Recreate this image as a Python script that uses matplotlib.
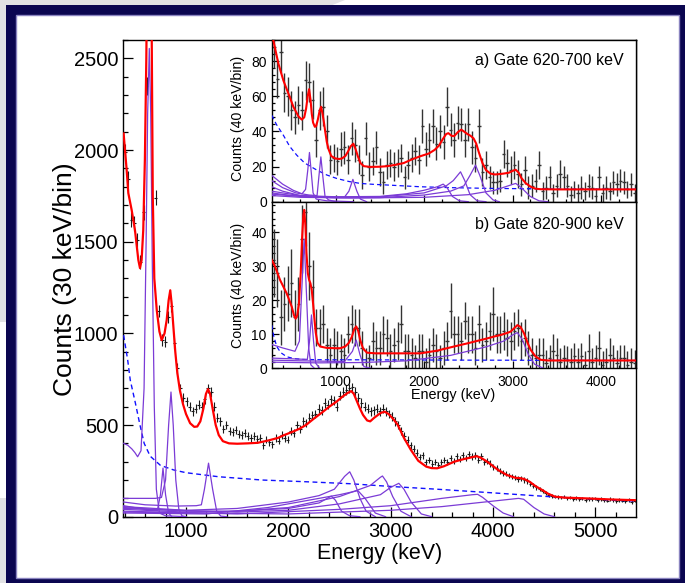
import numpy as np
import matplotlib
matplotlib.use("Agg")
import matplotlib.pyplot as plt
from matplotlib.patches import Rectangle, Polygon
from matplotlib.ticker import MultipleLocator

plt.rcParams['font.family'] = ['Liberation Sans', 'DejaVu Sans']

# ------------------------------------------------------------------ data
# main spectrum: 30 keV bins, first bin centre 405 keV
main_first_bin = 405
main_bin_width = 30
main_counts = [
    1990, 1840, 1620, 1600, 1510, 1390, 1660, 2350, 3600, 2900,
    1740, 1120, 963, 955, 1090, 1150, 946, 809, 700, 650,
    630, 600, 575, 590, 610, 600, 640, 700, 680, 600,
    540, 520, 480, 500, 470, 460, 475, 450, 445, 455,
    440, 430, 440, 425, 430, 390, 420, 405, 395, 430,
    415, 445, 430, 420, 470, 455, 500, 480, 520, 510,
    540, 555, 560, 590, 580, 620, 610, 640, 635, 600,
    660, 680, 690, 700, 705, 680, 650, 620, 600, 590,
    575, 580, 590, 575, 590, 575, 560, 545, 520, 500,
    470, 440, 420, 390, 370, 350, 325, 335, 300, 310,
    290, 300, 280, 300, 310, 300, 320, 305, 330, 315,
    335, 320, 340, 330, 335, 310, 330, 300, 305, 290,
    270, 265, 250, 240, 235, 225, 220, 215, 205, 210,
    200, 195, 180, 170, 160, 150, 140, 130, 120, 115,
    110, 108, 105, 110, 100, 105, 98, 102, 95, 100,
    92, 98, 95, 100, 90, 95, 92, 88, 95, 90,
    85, 92, 88, 85, 90, 80, 88]

main_fit = [(390, 2090), (420, 1890), (436, 1765), (469, 1672), (501, 1563), (534, 1400),
            (550, 1356), (566, 1400), (582, 1563), (598, 1950), (612, 2500), (625, 3300),
            (640, 3800), (655, 3200), (665, 2600), (675, 1750), (690, 1300), (714, 1127),
            (740, 1010), (762, 963), (790, 1000), (811, 1072), (830, 1180), (846, 1235),
            (860, 1160), (876, 1040), (895, 900), (915, 784), (940, 690), (970, 615),
            (1000, 560), (1040, 510), (1080, 490), (1110, 492), (1140, 520), (1170, 590),
            (1195, 670), (1215, 696), (1235, 670), (1260, 590), (1290, 500), (1320, 445),
            (1360, 412), (1420, 400), (1500, 398), (1600, 400), (1700, 403), (1800, 415),
            (1900, 430), (1958, 445), (2050, 465), (2110, 480), (2172, 500), (2250, 535),
            (2340, 573), (2400, 600), (2470, 627), (2530, 655), (2580, 675), (2615, 685),
            (2640, 670), (2670, 630), (2700, 590), (2730, 555), (2770, 525), (2800, 520),
            (2840, 540), (2900, 565), (2940, 573), (2980, 560), (3030, 530), (3070, 500),
            (3130, 430), (3198, 364), (3270, 305), (3348, 273), (3400, 265), (3455, 264),
            (3520, 275), (3622, 300), (3720, 315), (3800, 325), (3840, 330), (3880, 322),
            (3930, 305), (3965, 291), (4050, 255), (4138, 227), (4220, 212), (4270, 210),
            (4307, 205), (4360, 190), (4420, 165), (4480, 146), (4540, 125), (4607, 109),
            (4700, 104), (4800, 102), (4950, 99), (5150, 94), (5398, 90)]

main_bg = [(390, 990), (430, 854), (455, 745), (505, 620), (550, 500), (591, 400), (650, 330),
           (750, 280), (879, 255), (1000, 240), (1317, 218), (1744, 200), (2200, 190),
           (2600, 180), (3000, 165), (3450, 150), (4000, 130), (4560, 109), (5000, 95), (5398, 85)]

main_comp_650 = [(390, 400), (430, 390), (470, 370), (500, 350), (527, 327), (560, 360),
                 (590, 700), (610, 1500), (625, 2200), (641, 2554), (655, 2200), (670, 1400),
                 (690, 600), (710, 150), (740, 20), (800, 5), (1000, 0)]
main_comp_775 = [(390, 60), (600, 40), (720, 35), (750, 120), (775, 265), (800, 120),
                 (830, 20), (860, 0)]
main_comp_850 = [(390, 100), (700, 100), (760, 105), (800, 200), (830, 500), (853, 680),
                 (875, 500), (900, 200), (930, 40), (960, 5), (1000, 0)]
main_comp_1220 = [(390, 80), (600, 65), (900, 58), (1100, 60), (1150, 65), (1180, 150),
                  (1220, 292), (1260, 150), (1300, 30), (1340, 3), (1400, 0)]
main_comp_2420 = [(390, 40), (1000, 25), (1500, 30), (2000, 45), (2300, 75), (2380, 100),
                  (2420, 112), (2460, 90), (2520, 30), (2600, 5), (2700, 0)]
main_comp_2600 = [(390, 55), (1000, 35), (1500, 45), (2000, 80), (2300, 115), (2450, 150),
                  (2550, 220), (2600, 245), (2640, 200), (2700, 100), (2760, 30), (2850, 0)]
main_comp_2680 = [(390, 20), (1200, 15), (1800, 50), (2200, 90), (2500, 120), (2680, 142),
                  (2750, 100), (2850, 20), (2950, 0)]
main_comp_2920 = [(390, 50), (1000, 30), (1500, 30), (2000, 50), (2500, 110), (2800, 170),
                  (2900, 215), (2920, 222), (2960, 190), (3020, 110), (3100, 30), (3200, 0)]
main_comp_3080 = [(390, 45), (1500, 25), (2000, 35), (2500, 70), (2900, 120), (3000, 160),
                  (3080, 182), (3130, 150), (3200, 80), (3300, 15), (3400, 0)]
main_comp_3850 = [(390, 30), (1500, 15), (2500, 40), (3000, 60), (3500, 100), (3800, 120),
                  (3850, 122), (3900, 105), (4000, 60), (4100, 20), (4200, 0)]
main_comp_4250 = [(390, 25), (2000, 15), (3000, 35), (3500, 55), (4000, 85), (4250, 100),
                  (4300, 95), (4400, 50), (4500, 15), (4600, 0)]
main_components = [main_comp_650, main_comp_775, main_comp_850, main_comp_1220,
                   main_comp_2420, main_comp_2600, main_comp_2680, main_comp_2920,
                   main_comp_3080, main_comp_3850, main_comp_4250]

# gated spectra: 40 keV bins, first bin centre 300 keV
gate_first_bin = 300
gate_bin_width = 40
gate_a_counts = [
    88, 70, 85, 62, 60, 52, 48, 55, 52, 69,
    68, 58, 35, 52, 54, 40, 24, 25, 23, 30,
    31, 24, 36, 32, 24, 15, 36, 20, 23, 31,
    17, 11, 21, 22, 20, 22, 25, 14, 21, 25,
    29, 24, 43, 30, 35, 43, 33, 40, 34, 54,
    41, 35, 45, 44, 35, 44, 31, 25, 43, 17,
    21, 14, 11, 11, 12, 27, 22, 18, 21, 16,
    10, 18, 8, 9, 12, 21, 6, 8, 14, 5,
    9, 16, 14, 9, 4, 7, 5, 8, 6, 9,
    8, 3, 14, 5, 8, 6, 11, 10, 12, 11,
    7, 10, 5]
gate_a_errors = [
    12, 11, 12, 11, 11, 11, 9.5, 11, 11, 11,
    11, 11, 9.5, 11, 11, 9.5, 8, 8, 8, 9.5,
    9.5, 8, 9.5, 9.5, 8, 8, 9.5, 8, 8, 9.5,
    8, 6.5, 8, 8, 8, 8, 8, 6.5, 8, 8,
    8, 8, 9.5, 9.5, 9.5, 9.5, 9.5, 9.5, 9.5, 11,
    9.5, 9.5, 9.5, 9.5, 9.5, 9.5, 9.5, 8, 9.5, 8,
    8, 6.5, 6.5, 6.5, 6.5, 8, 8, 8, 8, 8,
    6.5, 8, 6.5, 6.5, 6.5, 8, 5, 6.5, 6.5, 5,
    6.5, 8, 6.5, 6.5, 5, 5, 5, 6.5, 5, 6.5,
    6.5, 5, 6.5, 5, 6.5, 5, 6.5, 6.5, 6.5, 6.5,
    5, 6.5, 5]
gate_b_counts = [
    31, 28, 15, 19, 22, 25, 15, 19, 38, 46,
    30, 24, 12, 12, 13, 7, 4, 7, 6, 5,
    4, 10, 13, 12, 12, 6, 2, 3, 8, 6,
    6, 10, 9, 5, 7, 8, 13, 5, 5, 4,
    3, 5, 5, 2, 4, 7, 5, 3, 6, 8,
    17, 10, 10, 8, 14, 10, 10, 6, 13, 7,
    8, 11, 16, 10, 10, 11, 9, 8, 11, 12,
    8, 9, 6, 4, 3, 4, 4, 1.5, 3, 5,
    4, 2, 3, 2.5, 2, 3.5, 2, 3.5, 1, 5,
    2, 3, 6, 1, 2, 4, 3, 1.5, 3, 3,
    1, 2, 1.5]
gate_b_errors = [
    10, 10, 8, 8, 8, 10, 8, 8, 10, 10,
    10, 8, 5.5, 5.5, 5.5, 5, 5, 5, 5, 5,
    5, 5.5, 5.5, 5.5, 5.5, 5, 4, 4, 5.5, 5,
    5, 5.5, 5.5, 5, 5, 5.5, 5.5, 5, 5, 5,
    4, 5, 5, 4, 5, 5, 5, 4, 5, 5.5,
    8, 5.5, 5.5, 5.5, 5.5, 5.5, 5.5, 5, 5.5, 5,
    5.5, 5.5, 8, 5.5, 5.5, 5.5, 5.5, 5.5, 5.5, 5.5,
    5.5, 5.5, 5, 5, 4, 5, 5, 4, 4, 5,
    5, 4, 4, 4, 4, 4, 4, 4, 4, 5,
    4, 4, 5, 4, 4, 5, 4, 4, 4, 4,
    4, 4, 4]

gate_a_fit = [(277, 95), (296, 91.7), (353, 78.5), (409, 69), (466, 61.5), (523, 53.9),
              (579, 48.6), (617, 46.7), (645, 48), (666, 53), (684, 60), (700, 64), (716, 58),
              (730, 50), (745, 45), (765, 42.6), (780, 43), (800, 47), (820, 52), (836, 54),
              (852, 50), (868, 45), (882, 40), (900, 34), (919, 30), (950, 26), (995, 24.6),
              (1040, 24.3), (1071, 24.6), (1110, 26), (1139, 28.5), (1170, 31.5), (1200, 33),
              (1225, 30), (1250, 26), (1280, 22), (1320, 20.2), (1392, 19.8), (1500, 19.9),
              (1581, 20.2), (1680, 21), (1770, 22), (1860, 24), (1959, 25.9), (2053, 27.4),
              (2120, 29.5), (2170, 32), (2210, 35.5), (2250, 38.5), (2275, 39), (2310, 37.5),
              (2340, 37.3), (2380, 39.5), (2420, 41), (2450, 40), (2490, 38.5), (2526, 37.5),
              (2560, 36), (2590, 33), (2620, 28), (2660, 22), (2700, 18), (2750, 16),
              (2800, 15.5), (2850, 15.7), (2900, 16), (2960, 16.5), (3000, 17.5), (3036, 18.2),
              (3070, 16.5), (3100, 13.5), (3150, 10.5), (3206, 8.5), (3260, 7.4), (3319, 7.1),
              (3500, 7), (4393, 7)]
gate_a_bg = [(277, 49.2), (330, 44), (409, 37.8), (480, 31.5), (560, 26.5), (650, 22),
             (787, 18), (900, 15.2), (1014, 13.2), (1150, 11.5), (1278, 10.4), (1420, 9.9),
             (1581, 9.5), (1959, 8.5), (2300, 8), (2715, 7.6), (3100, 7.4), (3471, 7.2),
             (4393, 7.1)]
gate_a_comp_704 = [(277, 15), (400, 10), (520, 6.5), (620, 4.5), (660, 7), (685, 18), (704, 28),
                   (722, 18), (745, 5), (780, 1.5), (900, 0.5), (1200, 0)]
gate_a_comp_833 = [(277, 12), (400, 8), (550, 5), (700, 3.8), (790, 3.5), (810, 14), (833, 25.5),
                   (856, 14), (880, 3), (920, 1), (1000, 0)]
gate_a_comp_1195 = [(277, 8.5), (400, 6), (600, 3.5), (800, 2.8), (1100, 2.6), (1150, 6),
                    (1195, 12.7), (1240, 6), (1280, 1.5), (1350, 0)]
gate_a_comp_2216 = [(277, 6), (400, 5), (600, 3.5), (1000, 2.8), (1500, 3), (1800, 4.5),
                    (2000, 6.5), (2150, 8.5), (2216, 10), (2260, 8), (2320, 3), (2400, 0.5), (2500, 0)]
gate_a_comp_2412 = [(277, 5), (500, 3.5), (1000, 2.5), (1500, 2.7), (2000, 5), (2250, 9),
                    (2330, 12), (2412, 17), (2460, 12), (2520, 4), (2600, 0.5), (2700, 0)]
gate_a_comp_2582 = [(277, 4.3), (600, 3), (1000, 2.2), (1500, 2.3), (2000, 3.8), (2300, 6),
                    (2450, 9), (2520, 15), (2582, 20.8), (2630, 15), (2700, 5), (2780, 1), (2850, 0)]
gate_a_comp_3036 = [(277, 3.5), (600, 2.5), (1200, 2.1), (2000, 2.5), (2500, 4), (2800, 6.5),
                    (2950, 9), (3036, 10.4), (3100, 8), (3200, 3), (3300, 0.5), (3400, 0)]
gate_a_components = [gate_a_comp_704, gate_a_comp_833, gate_a_comp_1195, gate_a_comp_2216,
                     gate_a_comp_2412, gate_a_comp_2582, gate_a_comp_3036]

gate_b_fit = [(277, 31.9), (315, 29.9), (371, 26), (447, 22), (504, 18.1), (530, 15.5),
              (548, 14.6), (565, 15.5), (585, 19), (605, 28), (620, 38), (635, 45), (645, 46.6),
              (658, 42), (670, 34), (685, 28), (700, 26), (715, 25), (730, 23), (745, 19),
              (760, 14.5), (775, 10.5), (795, 7.5), (825, 6.4), (900, 6.0), (1000, 5.9),
              (1052, 5.9), (1108, 6.4), (1150, 7.5), (1184, 9.3), (1210, 11.5), (1233, 12.3),
              (1255, 11), (1278, 8.3), (1310, 5.8), (1354, 4.6), (1450, 4.4), (1700, 4.4),
              (1959, 4.4), (2150, 5.2), (2337, 6.4), (2500, 7.4), (2715, 8.8), (2800, 9.4),
              (2866, 9.8), (2940, 10.4), (2979, 10.8), (3020, 11.8), (3055, 12.7), (3090, 12.2),
              (3130, 10.3), (3170, 7.5), (3206, 5.4), (3260, 3.5), (3319, 2.5), (3400, 2.3),
              (4393, 2.3)]
gate_b_bg = [(277, 12.7), (300, 9.5), (334, 6.4), (380, 4.6), (447, 3.4), (520, 2.9), (636, 2.6),
             (900, 2.5), (1203, 2.5), (2500, 2.4), (4393, 2.3)]
gate_b_comp_644 = [(277, 7), (400, 6), (540, 5), (590, 8), (615, 22), (644, 38), (670, 22),
                   (695, 6), (720, 1), (760, 0)]
gate_b_comp_727 = [(277, 3), (500, 2.8), (680, 2.6), (705, 8), (727, 15.7), (750, 8), (775, 1.5),
                   (820, 0)]
gate_b_comp_1233 = [(277, 2.4), (600, 2.2), (1100, 2.0), (1190, 5), (1233, 8.3), (1275, 4),
                    (1320, 0.5), (1400, 0)]
gate_b_comp_3055 = [(277, 1.8), (800, 1.6), (1300, 1.7), (1800, 2.2), (2300, 3.8), (2700, 6.3),
                    (2900, 8), (3000, 9.8), (3055, 10.5), (3110, 8.5), (3180, 4), (3250, 1.2),
                    (3350, 0)]
gate_b_components = [gate_b_comp_644, gate_b_comp_727, gate_b_comp_1233, gate_b_comp_3055]

# ------------------------------------------------------------------ style
RED = '#ff0000'
PURPLE = '#7b3bd6'
BLUE = '#1010ff'
NAVY = '#0b0650'
W, H = 685, 583


def fx(x):
    return x / W


def fy(y):
    return 1 - y / H


fig = plt.figure(figsize=(6.85, 5.83), dpi=100)
fig.patch.set_facecolor('#e2e2e4')

# slide background decorations (behind everything)
fig.patches.append(Polygon([(fx(345), fy(0)), (fx(685), fy(0)), (fx(685), fy(6)), (fx(330), fy(6))],
                           closed=True, transform=fig.transFigure, facecolor='white',
                           edgecolor='none', zorder=-3))
fig.patches.append(Rectangle((0, fy(498)), fx(6), fy(322) - fy(498), transform=fig.transFigure,
                             facecolor='white', edgecolor='none', zorder=-3))
fig.patches.append(Rectangle((fx(6), 0), 1 - fx(6), fy(5), transform=fig.transFigure,
                             facecolor=NAVY, edgecolor='none', zorder=-2))
fig.patches.append(Rectangle((fx(16), fy(578)), fx(679) - fx(16), fy(15) - fy(578),
                             transform=fig.transFigure, facecolor='white',
                             edgecolor='#8a84c0', linewidth=1.0, zorder=-1))


def style_axes(ax, major_len, minor_len, labelsize, pad):
    ax.set_facecolor('white')
    ax.tick_params(which='both', direction='in', top=False, right=False,
                   labelsize=labelsize, pad=pad, width=0.9, color='black')
    ax.tick_params(which='major', length=major_len)
    ax.tick_params(which='minor', length=minor_len)
    for s in ax.spines.values():
        s.set_linewidth(1.0)
        s.set_color('black')


def draw_curve(ax, pts, **kw):
    e = [p[0] for p in pts]
    v = [p[1] for p in pts]
    ax.plot(e, v, **kw)


# ------------------------------------------------------------------ main axes
ax = fig.add_axes([fx(123.3), fy(516.7), fx(636) - fx(123.3), fy(40) - fy(516.7)], zorder=1)
style_axes(ax, 7, 3.5, 14.5, 3.5)
ax.set_xlim(387, 5398)
ax.set_ylim(0, 2600)
ax.xaxis.set_major_locator(MultipleLocator(1000))
ax.xaxis.set_minor_locator(MultipleLocator(200))
ax.yaxis.set_major_locator(MultipleLocator(500))
ax.yaxis.set_minor_locator(MultipleLocator(100))

main_centres = main_first_bin + main_bin_width * np.arange(len(main_counts))
main_err = np.sqrt(np.array(main_counts, dtype=float))
ax.errorbar(main_centres, main_counts, yerr=main_err, xerr=main_bin_width / 2, fmt='none',
            ecolor='#1a1a1a', elinewidth=0.8, zorder=2)
draw_curve(ax, main_bg, color=BLUE, lw=1.0, ls=(0, (3.5, 2.5)), zorder=3)
for comp in main_components:
    draw_curve(ax, comp, color=PURPLE, lw=0.9, zorder=3)
draw_curve(ax, main_fit, color=RED, lw=1.6, zorder=4)

fig.text(fx(380), fy(553), 'Energy (keV)', ha='center', va='center', fontsize=15.5)
fig.text(fx(65), fy(279), 'Counts (30 keV/bin)', ha='center', va='center', fontsize=19,
         rotation=90)

# ------------------------------------------------------------------ inset a
gate_centres = gate_first_bin + gate_bin_width * np.arange(len(gate_a_counts))

axa = fig.add_axes([fx(271.7), fy(201.7), fx(635.7) - fx(271.7), fy(40) - fy(201.7)], zorder=2)
style_axes(axa, 5, 2.5, 10, 3.5)
axa.set_xlim(277, 4393)
axa.set_ylim(0, 92)
axa.xaxis.set_major_locator(MultipleLocator(1000))
axa.xaxis.set_minor_locator(MultipleLocator(200))
axa.yaxis.set_major_locator(MultipleLocator(20))
axa.yaxis.set_minor_locator(MultipleLocator(4))
axa.tick_params(axis='x', labelbottom=False)
axa.errorbar(gate_centres, gate_a_counts, yerr=gate_a_errors, xerr=gate_bin_width / 2,
             fmt='none', ecolor='#333333', elinewidth=1.0, zorder=2)
draw_curve(axa, gate_a_bg, color=BLUE, lw=0.9, ls=(0, (3.5, 2.5)), zorder=3)
for comp in gate_a_components:
    draw_curve(axa, comp, color=PURPLE, lw=0.9, zorder=3)
draw_curve(axa, gate_a_fit, color=RED, lw=1.5, zorder=4)
axa.text(0.968, 0.875, 'a) Gate 620-700 keV', transform=axa.transAxes, ha='right',
         va='center', fontsize=11.5)
fig.text(fx(238), fy(118.5), 'Counts (40 keV/bin)', ha='center', va='center', fontsize=10.2,
         rotation=90)

# ------------------------------------------------------------------ inset b
axb = fig.add_axes([fx(271.7), fy(368.3), fx(635.7) - fx(271.7), fy(201.7) - fy(368.3)], zorder=2)
style_axes(axb, 5, 2.5, 10, 3.5)
axb.set_xlim(277, 4393)
axb.set_ylim(0, 49)
axb.xaxis.set_major_locator(MultipleLocator(1000))
axb.xaxis.set_minor_locator(MultipleLocator(200))
axb.yaxis.set_major_locator(MultipleLocator(10))
axb.yaxis.set_minor_locator(MultipleLocator(2))
axb.tick_params(axis='x', pad=4.5)
axb.errorbar(gate_centres, gate_b_counts, yerr=gate_b_errors, xerr=gate_bin_width / 2,
             fmt='none', ecolor='#333333', elinewidth=1.0, zorder=2)
draw_curve(axb, gate_b_bg, color=BLUE, lw=0.9, ls=(0, (3.5, 2.5)), zorder=3)
for comp in gate_b_components:
    draw_curve(axb, comp, color=PURPLE, lw=0.9, zorder=3)
draw_curve(axb, gate_b_fit, color=RED, lw=1.5, zorder=4)
axb.text(0.968, 0.865, 'b) Gate 820-900 keV', transform=axb.transAxes, ha='right',
         va='center', fontsize=11.5)
fig.text(fx(238), fy(285), 'Counts (40 keV/bin)', ha='center', va='center', fontsize=10.2,
         rotation=90)
fig.text(fx(453), fy(395), 'Energy (keV)', ha='center', va='center', fontsize=10.4)

fig.savefig('out.png', dpi=100, facecolor=fig.get_facecolor())
